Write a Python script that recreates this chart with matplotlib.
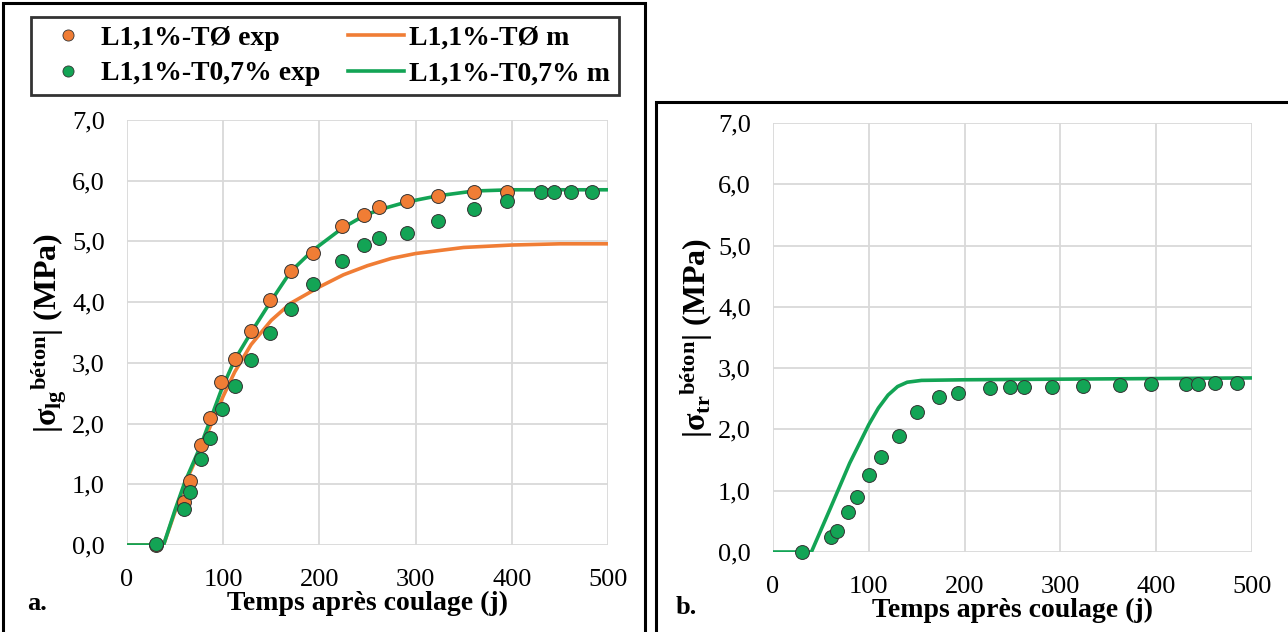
import matplotlib.pyplot as plt
from matplotlib.patches import Rectangle
from matplotlib.lines import Line2D

plt.rcParams['font.family'] = ['Liberation Serif', 'DejaVu Serif']
plt.rcParams['mathtext.fontset'] = 'custom'
plt.rcParams['mathtext.rm'] = 'Liberation Serif'
plt.rcParams['mathtext.bf'] = 'Liberation Serif:bold'
plt.rcParams['mathtext.it'] = 'Liberation Serif:italic'

# --- panel a : longitudinal stress ---
t_exp_o = [30, 59, 65, 77, 86, 98, 112, 129, 149, 170, 193, 224, 246, 262, 291, 323, 361, 395]
s_exp_o = [0.0, 0.70, 1.06, 1.65, 2.09, 2.68, 3.07, 3.52, 4.03, 4.52, 4.81, 5.25, 5.43, 5.56,
           5.66, 5.74, 5.82, 5.82]
t_exp_g = [30, 59, 66, 77, 86, 99, 112, 129, 149, 170, 193, 224, 246, 262, 291, 323, 361, 395,
           430, 444, 462, 483]
s_exp_g = [0.01, 0.60, 0.88, 1.41, 1.77, 2.24, 2.62, 3.05, 3.49, 3.88, 4.29, 4.67, 4.94, 5.05,
           5.14, 5.34, 5.54, 5.67, 5.82, 5.82, 5.82, 5.82]

t_mod_o = [0, 38, 50, 60, 77, 100, 112, 129, 150, 170, 200, 225, 250, 275, 300, 350, 400, 450, 500]
s_mod_o = [0, 0, 0.55, 1.0, 1.6, 2.45, 2.85, 3.3, 3.7, 3.98, 4.25, 4.45, 4.6, 4.72, 4.8, 4.9,
           4.94, 4.96, 4.96]
t_mod_g = [0, 38, 50, 60, 77, 98, 112, 129, 149, 170, 193, 224, 246, 262, 291, 323, 361, 400, 500]
s_mod_g = [0, 0, 0.58, 1.03, 1.65, 2.55, 3.05, 3.5, 4.0, 4.5, 4.85, 5.22, 5.42, 5.52, 5.65,
           5.75, 5.83, 5.85, 5.85]

# --- panel b : transverse stress ---
t_exp_b = [30, 60, 67, 78, 88, 100, 113, 131, 150, 173, 193, 226, 247, 262, 291, 324, 362, 395,
           431, 444, 461, 484]
s_exp_b = [0.0, 0.24, 0.34, 0.65, 0.90, 1.25, 1.55, 1.89, 2.29, 2.53, 2.60, 2.67, 2.69, 2.70,
           2.70, 2.71, 2.73, 2.74, 2.74, 2.74, 2.76, 2.76]
t_mod_b = [0, 40, 60, 80, 100, 110, 120, 130, 140, 155, 200, 300, 400, 500]
s_mod_b = [0, 0, 0.72, 1.45, 2.08, 2.35, 2.56, 2.70, 2.77, 2.80, 2.81, 2.82, 2.83, 2.84]

yticks = [0, 1, 2, 3, 4, 5, 6, 7]
ytick_labels = ['0,0', '1,0', '2,0', '3,0', '4,0', '5,0', '6,0', '7,0']
xticks = [0, 100, 200, 300, 400, 500]

orange = '#F07D35'
green = '#13A455'

fig = plt.figure(figsize=(12.88, 6.32), dpi=100)
ax_a = fig.add_axes([0.0986, 0.1377, 0.3734, 0.6725])
ax_b = fig.add_axes([0.6002, 0.1266, 0.3719, 0.6788])


def style(ax):
    ax.set_xlim(0, 500)
    ax.set_ylim(0, 7)
    ax.set_xticks(xticks)
    ax.set_yticks(yticks)
    ax.set_yticklabels(ytick_labels)
    ax.grid(True, color='#d9d9d9', lw=1.3)
    ax.set_axisbelow(True)
    for s in ax.spines.values():
        s.set_visible(False)
    ax.tick_params(axis='y', length=0, labelsize=19, pad=16)
    ax.tick_params(axis='x', length=0, labelsize=19, pad=17)
    ax.set_xlabel('Temps après coulage (j)', fontsize=20, fontweight='bold', labelpad=0)


style(ax_a)
style(ax_b)

mk = dict(marker='o', ls='none', ms=10, mec='#333333', mew=0.7, clip_on=False, zorder=4)
ax_a.plot(t_mod_o, s_mod_o, color=orange, lw=2.6, zorder=3)
ax_a.plot(t_mod_g, s_mod_g, color=green, lw=2.6, zorder=3)
ax_a.plot(t_exp_o, s_exp_o, mfc=orange, **mk)
ax_a.plot(t_exp_g, s_exp_g, mfc=green, **mk)
ax_a.set_ylabel(r'|σ$_{\mathbf{lg}}{}^{\mathbf{béton}}$| (MPa)',
                fontsize=23, fontweight='bold', labelpad=2)

ax_b.plot(t_mod_b, s_mod_b, color=green, lw=2.6, zorder=3)
ax_b.plot(t_exp_b, s_exp_b, mfc=green, **mk)
ax_b.set_ylabel(r'|σ$_{\mathbf{tr}}{}^{\mathbf{béton}}$| (MPa)',
                fontsize=23, fontweight='bold', labelpad=2)

fig.text(27 / 1288, 1 - 603 / 632, 'a.', fontsize=19, fontweight='bold', va='center')
fig.text(676 / 1288, 1 - 607 / 632, 'b.', fontsize=19, fontweight='bold', va='center')

# panel frames
fig.add_artist(Rectangle((3 / 1288, -0.01), 642 / 1288, 1 - 3 / 632 + 0.01, transform=fig.transFigure,
                         fill=False, ec='black', lw=2.2))
fig.add_artist(Rectangle((656 / 1288, -0.01), 640 / 1288, 1 - 102 / 632 + 0.01,
                         transform=fig.transFigure, fill=False, ec='black', lw=2.2))

handles = [
    Line2D([], [], marker='o', ls='none', ms=8, mfc=orange, mec='#333333', mew=0.6),
    Line2D([], [], marker='o', ls='none', ms=8, mfc=green, mec='#333333', mew=0.6),
    Line2D([], [], color=orange, lw=2.6),
    Line2D([], [], color=green, lw=2.6),
]
labels = ['L1,1%-TØ exp', 'L1,1%-T0,7% exp', 'L1,1%-TØ m', 'L1,1%-T0,7% m']
leg = fig.legend(handles, labels, ncol=2, loc='center', bbox_to_anchor=(325 / 1288, 1 - 56 / 632),
                 prop={'size': 20, 'weight': 'bold'}, frameon=True, fancybox=False,
                 edgecolor='black', handlelength=2.0, handletextpad=0.2, columnspacing=1.0,
                 labelspacing=0.35, borderpad=0.3, borderaxespad=0)
leg.get_frame().set_linewidth(2)

fig.savefig('out.png', dpi=100)
